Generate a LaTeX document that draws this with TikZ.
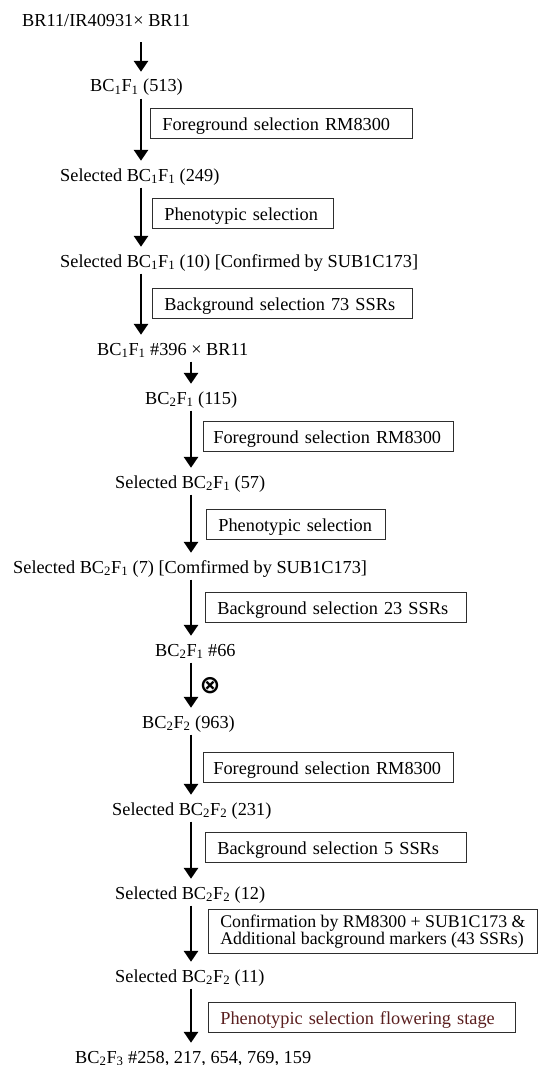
\documentclass[tikz,border=0pt]{standalone}
\usepackage{fontspec}
\setmainfont{Liberation Serif}
\newfontfamily\symfont{DejaVu Sans}
\usetikzlibrary{arrows.meta}

\definecolor{boxline}{HTML}{2E2E2E}
\definecolor{stagered}{HTML}{5A1E1E}
\newcommand{\bcf}[2]{BC\textsubscript{#1}F\textsubscript{#2}}

\tikzset{
  gen/.style={anchor=base west, inner sep=0pt, text height=12pt, text depth=4pt},
  sel/.style={draw=boxline, line width=0.8pt, anchor=north west, inner xsep=12pt,
    inner ysep=0pt, align=left},
  one/.style={minimum height=30pt, text height=14pt, text depth=0pt},
  flow/.style={line width=2.8pt, -{Triangle[width=14pt,length=11pt]},
    shorten <=2.5pt, shorten >=8pt},
}

\begin{document}
\begin{tikzpicture}[x=1pt, y=-1pt, font=\fontsize{18.3pt}{17pt}\selectfont]
  \useasboundingbox (0,0) rectangle (540,1065);
  \coordinate (left col) at (141,0);
  \coordinate (right col) at (191,0);

  % generations
  \node [gen, name=cross] at (22,27) {BR11/IR40931× BR11};
  \node [gen, name=bc11] at (90,92) {\bcf{1}{1} (513)};
  \node [gen, name=bc11a] at (60,181) {Selected \bcf{1}{1} (249)};
  \node [gen, name=bc11b] at (60,267) {Selected \bcf{1}{1} (10) [Confirmed by SUB1C173]};
  \node [gen, name=bc11c] at (97,355) {\bcf{1}{1} \#396 × BR11};
  \node [gen, name=bc21] at (145,404) {\bcf{2}{1} (115)};
  \node [gen, name=bc21a] at (115,488) {Selected \bcf{2}{1} (57)};
  \node [gen, name=bc21b] at (13,573) {Selected \bcf{2}{1} (7) [Comfirmed by SUB1C173]};
  \node [gen, name=bc21c] at (155,656) {\bcf{2}{1} \#66};
  \node [gen, name=bc22] at (142,728) {\bcf{2}{2} (963)};
  \node [gen, name=bc22a] at (112,815) {Selected \bcf{2}{2} (231)};
  \node [gen, name=bc22b] at (115,899) {Selected \bcf{2}{2} (12)};
  \node [gen, name=bc22c] at (115,982) {Selected \bcf{2}{2} (11)};
  \node [gen, name=bc23] at (75,1063) {\bcf{2}{3} \#258, 217, 654, 769, 159};

  % selection steps
  \node [sel, one, text width=238pt, name=fg1] at (150,108) {Foreground selection RM8300};
  \node [sel, one, text width=157pt, name=ph1] at (152,198) {Phenotypic selection};
  \node [sel, one, text width=236pt, name=bg1] at (152,288) {Background selection 73 SSRs};
  \node [sel, one, text width=230pt, inner xsep=10pt, name=fg2] at (203,421) {Foreground selection RM8300};
  \node [sel, one, text width=155pt, name=ph2] at (206,509) {Phenotypic selection};
  \node [sel, one, text width=237pt, name=bg2] at (205,592) {Background selection 23 SSRs};
  \node [sel, one, text width=230pt, inner xsep=10pt, name=fg3] at (203,752) {Foreground selection RM8300};
  \node [sel, one, text width=237pt, name=bg3] at (205,832) {Background selection 5 SSRs};
  \node [sel, minimum height=44pt, minimum width=329pt, inner xsep=6pt,
    font=\fontsize{17.8pt}{16.5pt}\selectfont, name=conf] at (208,909)
    {Confirmation by RM8300 + SUB1C173 \&\\Additional background markers (43 SSRs)};
  \node [sel, one, text width=283pt, text=stagered, name=ph3] at (208,1002) {Phenotypic selection flowering stage};

  \node [inner sep=0pt, font=\symfont\bfseries\fontsize{25pt}{25pt}\selectfont, name=selfing] at (210,686) {⊗};

  \draw [flow, shorten <=11pt] (cross.south -| left col) -- (bc11.north -| left col);
  \draw [flow] (bc11.south -| left col) -- (bc11a.north -| left col);
  \draw [flow] (bc11a.south -| left col) -- (bc11b.north -| left col);
  \draw [flow] (bc11b.south -| left col) -- (bc11c.north -| left col);
  \draw [flow] (bc11c.south -| right col) -- (bc21.north -| right col);
  \draw [flow] (bc21.south -| right col) -- (bc21a.north -| right col);
  \draw [flow] (bc21a.south -| right col) -- (bc21b.north -| right col);
  \draw [flow] (bc21b.south -| right col) -- (bc21c.north -| right col);
  \draw [flow] (bc21c.south -| right col) -- (bc22.north -| right col);
  \draw [flow] (bc22.south -| right col) -- (bc22a.north -| right col);
  \draw [flow] (bc22a.south -| right col) -- (bc22b.north -| right col);
  \draw [flow] (bc22b.south -| right col) -- (bc22c.north -| right col);
  \draw [flow] (bc22c.south -| right col) -- (bc23.north -| right col);

\end{tikzpicture}
\end{document}
